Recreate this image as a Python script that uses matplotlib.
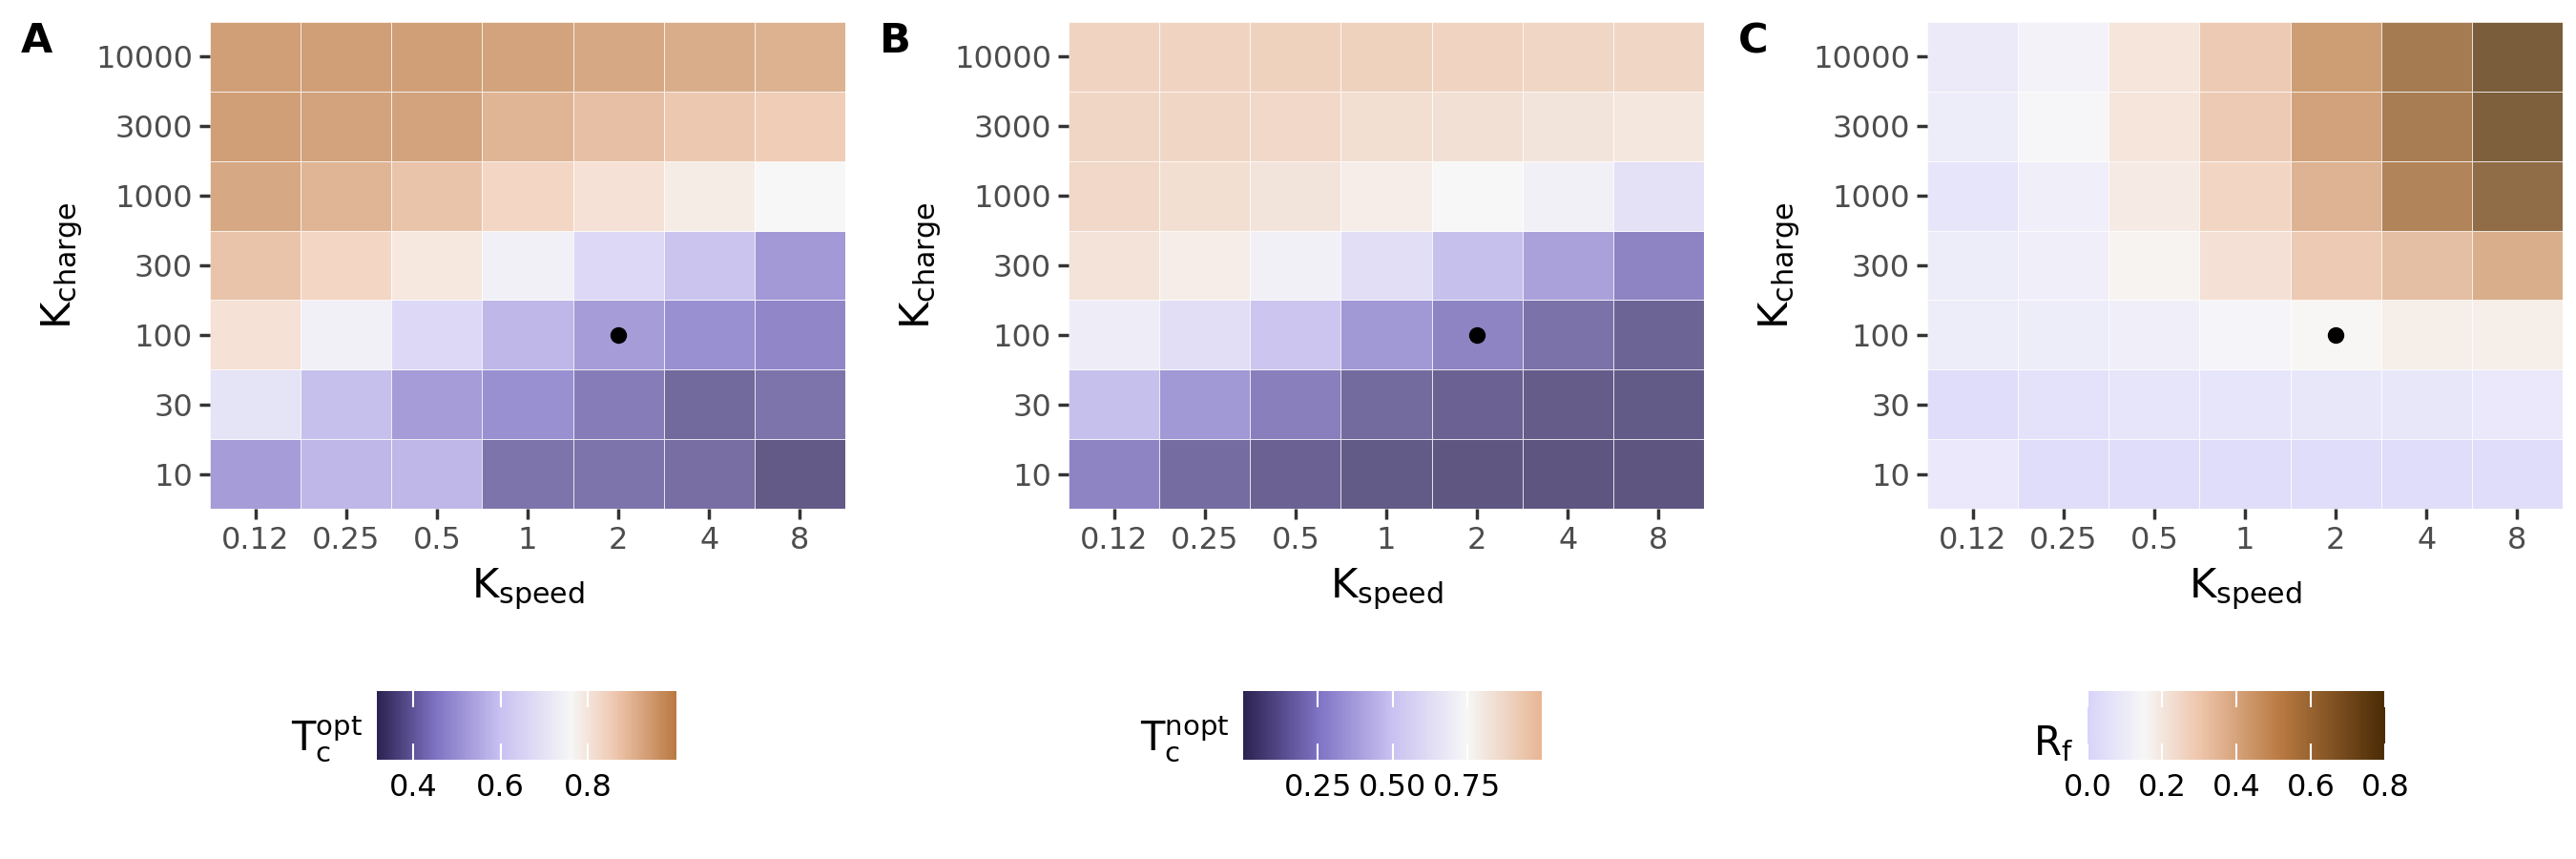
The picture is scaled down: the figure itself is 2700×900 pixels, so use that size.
import numpy as np
import matplotlib
matplotlib.use("Agg")
from matplotlib import pyplot as plt
import matplotlib.colors as colrs

plt.rcParams['font.family'] = 'DejaVu Sans'
plt.rcParams['mathtext.default'] = 'regular'

k_speed = ['0.12', '0.25', '0.5', '1', '2', '4', '8']
k_charge = ['10', '30', '100', '300', '1000', '3000', '10000']
ref_point = ('2', '100')

# rows listed top (10000) to bottom (10)
t_opt = [[0.97, 0.97, 0.97, 0.96, 0.95, 0.94, 0.93],
         [0.97, 0.96, 0.96, 0.92, 0.90, 0.88, 0.87],
         [0.95, 0.92, 0.89, 0.85, 0.82, 0.79, 0.76],
         [0.89, 0.85, 0.80, 0.73, 0.64, 0.58, 0.48],
         [0.82, 0.73, 0.64, 0.55, 0.49, 0.46, 0.44],
         [0.68, 0.57, 0.49, 0.46, 0.42, 0.38, 0.40],
         [0.49, 0.55, 0.55, 0.40, 0.40, 0.39, 0.35]]
t_nopt = [[0.92, 0.92, 0.93, 0.93, 0.92, 0.91, 0.91],
          [0.91, 0.91, 0.90, 0.87, 0.86, 0.84, 0.83],
          [0.90, 0.87, 0.84, 0.80, 0.75, 0.70, 0.62],
          [0.85, 0.80, 0.70, 0.60, 0.45, 0.33, 0.22],
          [0.68, 0.60, 0.47, 0.30, 0.22, 0.15, 0.10],
          [0.45, 0.30, 0.20, 0.12, 0.09, 0.07, 0.06],
          [0.22, 0.13, 0.09, 0.06, 0.05, 0.04, 0.04]]
r_f = [[0.08, 0.12, 0.22, 0.32, 0.48, 0.62, 0.75],
       [0.09, 0.14, 0.22, 0.32, 0.46, 0.61, 0.74],
       [0.05, 0.10, 0.20, 0.28, 0.40, 0.58, 0.68],
       [0.09, 0.10, 0.17, 0.24, 0.32, 0.36, 0.42],
       [0.09, 0.09, 0.10, 0.13, 0.16, 0.19, 0.19],
       [0.01, 0.03, 0.05, 0.05, 0.06, 0.06, 0.07],
       [0.07, 0.01, 0.01, 0.01, 0.01, 0.01, 0.01]]

def make_cmap(nodes):
    vmin, vmax = nodes[0][0], nodes[-1][0]
    pts = [((v - vmin) / (vmax - vmin), c) for v, c in nodes]
    return colrs.LinearSegmentedColormap.from_list('c', pts), vmin, vmax

panels = [
    ('A', t_opt, [(0.317, '#2d2352'), (0.45, '#7f73c4'), (0.6, '#c9c2f2'),
                  (0.76, '#f7f7f7'), (0.86, '#f0c8b0'), (1.0, '#bb7a42')],
     r'$T_c^{opt}$', [0.4, 0.6, 0.8], ['0.4', '0.6', '0.8']),
    ('B', t_nopt, [(0.0, '#2d2352'), (0.25, '#7f73c4'), (0.5, '#c9c2f2'),
                   (0.75, '#f7f7f7'), (1.0, '#e8b796')],
     r'$T_c^{nopt}$', [0.25, 0.5, 0.75], ['0.25', '0.50', '0.75']),
    ('C', r_f, [(0.0, '#d8d4fa'), (0.15, '#f7f7f7'), (0.3, '#efc6ac'),
                (0.52, '#b97a42'), (0.8, '#4a2c05')],
     r'$R_f$', [0.0, 0.2, 0.4, 0.6, 0.8], ['0.0', '0.2', '0.4', '0.6', '0.8']),
]

W, H = 2700, 900
fig = plt.figure(figsize=(27, 9), dpi=100)
ax_lefts = [220, 1120, 2020]
cb_boxes = [(395, 708), (1303, 1616), (2188, 2500)]

for i, (letter, vals, nodes, cb_label, cb_ticks, cb_ticklabels) in enumerate(panels):
    cmap, vmin, vmax = make_cmap(nodes)
    norm = colrs.Normalize(vmin=vmin, vmax=vmax)
    left = ax_lefts[i]
    ax = fig.add_axes([left / W, 1 - 533 / H, 666 / W, 510 / H])
    data = np.array(vals)[::-1]
    ax.pcolormesh(np.arange(8) - 0.5, np.arange(8) - 0.5, data, cmap=cmap, norm=norm,
                  alpha=0.82, edgecolors=(1, 1, 1, 0.25), linewidth=0.6)
    ax.plot(k_speed.index(ref_point[0]), k_charge.index(ref_point[1]), 'o',
            color='black', markersize=11.5)
    ax.set_xlim(-0.5, 6.5)
    ax.set_ylim(-0.5, 6.5)
    ax.set_xticks(range(7))
    ax.set_xticklabels(k_speed)
    ax.set_yticks(range(7))
    ax.set_yticklabels(k_charge)
    ax.tick_params(labelsize=23, labelcolor='#4d4d4d', color='#333333',
                   length=8, width=2.5, pad=5)
    for s in ax.spines.values():
        s.set_visible(False)
    ax.set_xlabel(r'$K_{speed}$', fontsize=31, labelpad=8)
    ax.set_ylabel(r'$K_{charge}$', fontsize=31, labelpad=8)
    fig.text((left - 198) / W, 1 - 55 / H, letter, fontsize=31, fontweight='bold')

    # colour bar
    x0, x1 = cb_boxes[i]
    cax = fig.add_axes([x0 / W, 1 - 796 / H, (x1 - x0) / W, 72 / H])
    grad = np.linspace(vmin, vmax, 300).reshape(1, -1)
    cax.imshow(grad, aspect='auto', cmap=cmap, norm=norm,
               extent=[vmin, vmax, 0, 1])
    cax.set_xlim(vmin, vmax)
    cax.set_yticks([])
    cax.set_xticks(cb_ticks)
    cax.set_xticklabels(cb_ticklabels)
    cax.tick_params(axis='x', direction='in', color='white', length=12, width=1.5,
                    top=True, labelsize=23, labelcolor='black', pad=10)
    for s in cax.spines.values():
        s.set_visible(False)
    fig.text((x0 - 15) / W, 1 - 800 / H, cb_label, fontsize=30,
             ha='right', va='bottom')

plt.savefig('out.png', dpi=100)
